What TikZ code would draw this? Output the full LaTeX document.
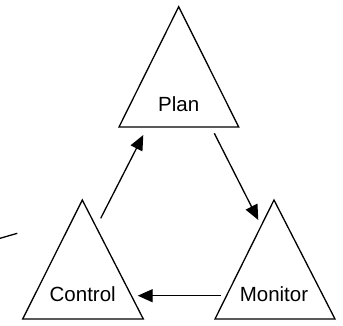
\documentclass[tikz,border=0pt]{standalone}
\usepackage{fontspec}
\setmainfont{Liberation Sans}
\usetikzlibrary{arrows.meta}
\begin{document}
\begin{tikzpicture}[x=1pt,y=-1pt,
  tri/.style={draw, line width=1.3pt, line join=miter},
  lbl/.style={font=\fontsize{20.5}{24}\selectfont, inner sep=0pt, anchor=base},
  arr/.style={-{Triangle[length=15pt,width=13pt]}, line width=1.3pt},
  plain/.style={line width=1.3pt}]
\useasboundingbox (0,0) rectangle (343,325);
% triangles
\draw[tri] (178.7,6.7) -- (238.7,127) -- (119,127) -- cycle;
\draw[tri] (82.3,200) -- (143.3,319) -- (22.7,319) -- cycle;
\draw[tri] (274,200) -- (335,319) -- (215,319) -- cycle;
% labels
\node[lbl] (plan) at (178.7,111.7) {Plan};
\node[lbl] (control) at (82.7,301.7) {Control};
\node[lbl] (monitor) at (274,301.7) {Monitor};
% connector end points
\coordinate (controlout) at (100.7,218.3);
\coordinate (planin) at (143.3,135);
\coordinate (planout) at (214.3,133.3);
\coordinate (monitorin) at (258.3,220);
\coordinate (monitorout) at (221,295.7);
\coordinate (controlin) at (137.7,295.7);
\coordinate (strayA) at (0,238.3);
\coordinate (strayB) at (17.3,233.3);
% connectors
\draw[arr] (controlout) -- (planin);
\draw[arr] (planout) -- (monitorin);
\draw[arr] (monitorout) -- (controlin);
\draw[plain] (strayA) -- (strayB);
\end{tikzpicture}
\end{document}
